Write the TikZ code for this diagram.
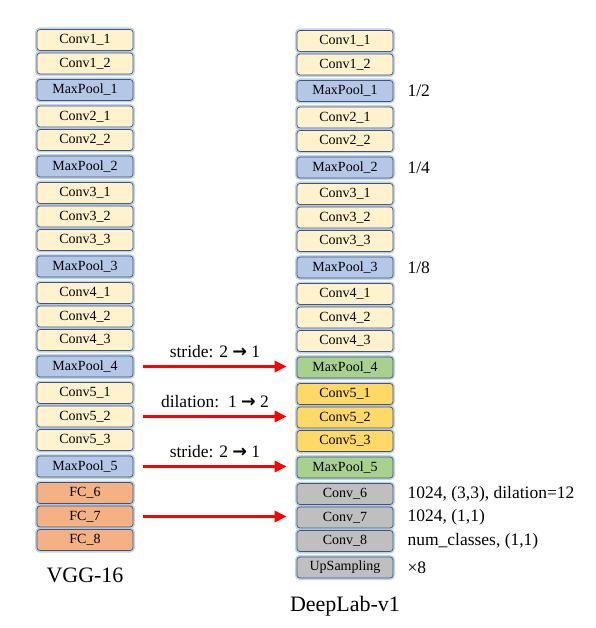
\documentclass[tikz,border=0pt]{standalone}
\usepackage{fontspec}
\setmainfont{Liberation Serif}
\newfontfamily\arrowfont{DejaVu Sans}
\usepackage{xcolor}
\usetikzlibrary{arrows.meta,positioning}

\definecolor{convc}{RGB}{255,242,204}
\definecolor{poolc}{RGB}{180,199,231}
\definecolor{fcc}{RGB}{244,177,131}
\definecolor{greenc}{RGB}{169,209,142}
\definecolor{goldc}{RGB}{255,217,102}
\definecolor{greyc}{RGB}{191,191,191}
\definecolor{edgec}{RGB}{72,84,106}
\definecolor{glowc}{RGB}{160,192,240}

\newcommand{\tto}{{\arrowfont\bfseries →}}

\begin{document}
\begin{tikzpicture}[
			x=1pt, y=-1pt,
			layer/.style={draw=edgec,line width=0.7pt,rounded corners=3pt,minimum width=96pt,minimum height=21pt,inner sep=0pt,
				font=\fontsize{14}{16}\selectfont,preaction={draw=glowc,line width=4pt,opacity=0.7}},
			conv/.style={layer,fill=convc},
			pool/.style={layer,fill=poolc},
			fc/.style={layer,fill=fcc},
			newpool/.style={layer,fill=greenc},
			newconv/.style={layer,fill=goldc},
			head/.style={layer,fill=greyc},
			note/.style={font=\fontsize{17.5}{20}\selectfont,inner sep=1pt},
			title/.style={font=\fontsize{22}{24}\selectfont},
			arrow/.style={-{Triangle[length=12pt,width=11pt]},line width=2.8pt,red,shorten <=10pt,shorten >=10pt}
			]
			\useasboundingbox (0,0) rectangle (595,628);
			% VGG-16
			\node[conv] (v11) at (85,40) {Conv1\_1};
			\node[conv, below=1.8pt of v11] (v12) {Conv1\_2};
			\node[pool, below=4.8pt of v12] (vp1) {MaxPool\_1};
			\node[conv, below=4.8pt of vp1] (v21) {Conv2\_1};
			\node[conv, below=1.8pt of v21] (v22) {Conv2\_2};
			\node[pool, below=4.8pt of v22] (vp2) {MaxPool\_2};
			\node[conv, below=4.8pt of vp2] (v31) {Conv3\_1};
			\node[conv, below=1.8pt of v31] (v32) {Conv3\_2};
			\node[conv, below=1.8pt of v32] (v33) {Conv3\_3};
			\node[pool, below=4.8pt of v33] (vp3) {MaxPool\_3};
			\node[conv, below=4.8pt of vp3] (v41) {Conv4\_1};
			\node[conv, below=1.8pt of v41] (v42) {Conv4\_2};
			\node[conv, below=1.8pt of v42] (v43) {Conv4\_3};
			\node[pool, below=4.8pt of v43] (vp4) {MaxPool\_4};
			\node[conv, below=4.8pt of vp4] (v51) {Conv5\_1};
			\node[conv, below=1.8pt of v51] (v52) {Conv5\_2};
			\node[conv, below=1.8pt of v52] (v53) {Conv5\_3};
			\node[pool, below=4.8pt of v53] (vp5) {MaxPool\_5};
			\node[fc, below=4.8pt of vp5] (vf6) {FC\_6};
			\node[fc, below=1.8pt of vf6] (vf7) {FC\_7};
			\node[fc, below=1.8pt of vf7] (vf8) {FC\_8};
			\node[title, below=14pt of vf8] (vgg) {VGG-16};
			% DeepLab-v1
			\node[conv] (d11) at (345,41) {Conv1\_1};
			\node[conv, below=1.8pt of d11] (d12) {Conv1\_2};
			\node[pool, below=4.8pt of d12] (dp1) {MaxPool\_1};
			\node[conv, below=4.8pt of dp1] (d21) {Conv2\_1};
			\node[conv, below=1.8pt of d21] (d22) {Conv2\_2};
			\node[pool, below=4.8pt of d22] (dp2) {MaxPool\_2};
			\node[conv, below=4.8pt of dp2] (d31) {Conv3\_1};
			\node[conv, below=1.8pt of d31] (d32) {Conv3\_2};
			\node[conv, below=1.8pt of d32] (d33) {Conv3\_3};
			\node[pool, below=4.8pt of d33] (dp3) {MaxPool\_3};
			\node[conv, below=4.8pt of dp3] (d41) {Conv4\_1};
			\node[conv, below=1.8pt of d41] (d42) {Conv4\_2};
			\node[conv, below=1.8pt of d42] (d43) {Conv4\_3};
			\node[newpool, below=4.8pt of d43] (dp4) {MaxPool\_4};
			\node[newconv, below=4.8pt of dp4] (d51) {Conv5\_1};
			\node[newconv, below=1.8pt of d51] (d52) {Conv5\_2};
			\node[newconv, below=1.8pt of d52] (d53) {Conv5\_3};
			\node[newpool, below=4.8pt of d53] (dp5) {MaxPool\_5};
			\node[head, below=4.8pt of dp5] (d6) {Conv\_6};
			\node[head, below=1.8pt of d6] (d7) {Conv\_7};
			\node[head, below=1.8pt of d7] (d8) {Conv\_8};
			\node[head, below=4.8pt of d8] (dup) {UpSampling};
			\node[title, below=14pt of dup] (deeplab) {DeepLab-v1};
			% side notes
			\node[note, anchor=west, right=13pt of dp1] (s1) {1/2};
			\node[note, anchor=west, right=13pt of dp2] (s2) {1/4};
			\node[note, anchor=west, right=13pt of dp3] (s3) {1/8};
			\node[note, anchor=west, right=13pt of d6] (n6) {1024, (3,3), dilation=12};
			\node[note, anchor=west, right=13pt of d7] (n7) {1024, (1,1)};
			\node[note, anchor=west, right=13pt of d8] (n8) {num\_classes, (1,1)};
			\node[note, anchor=west, right=13pt of dup] (nup) {×8};
			% changes
			\draw[arrow] (vp4.east) -- (vp4.east -| dp4.west) node[note, midway, above=6pt, black] {stride: 2 \tto\ 1};
			\draw[arrow] (v52.east) -- (v52.east -| d52.west) node[note, midway, above=6pt, black] {dilation:\ \ 1 \tto\ 2};
			\draw[arrow] (vp5.east) -- (vp5.east -| dp5.west) node[note, midway, above=6pt, black] {stride: 2 \tto\ 1};
			\draw[arrow] (vf7.east) -- (vf7.east -| d7.west);
		\end{tikzpicture}
\end{document}
